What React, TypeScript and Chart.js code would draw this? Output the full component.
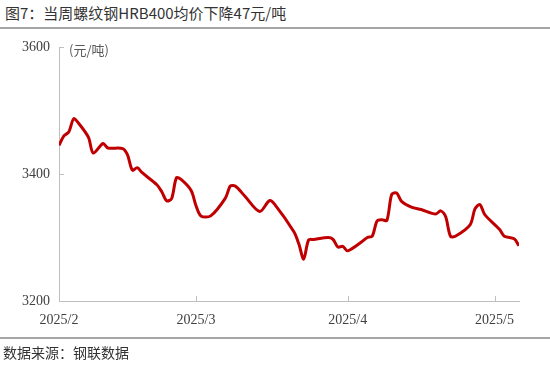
import React, { useEffect, useRef } from "react";
import { Chart, registerables } from "chart.js";

Chart.register(...registerables);

const title = "图7：当周螺纹钢HRB400均价下降47元/吨";
const source = "数据来源：钢联数据";
const unitLabel = "(元/吨)";

const dates = [
  "2025-02-01", "2025-02-02", "2025-02-03", "2025-02-04", "2025-02-05", "2025-02-07", "2025-02-08",
  "2025-02-10", "2025-02-11", "2025-02-14", "2025-02-15", "2025-02-16", "2025-02-17", "2025-02-18",
  "2025-02-21", "2025-02-22", "2025-02-23", "2025-02-24", "2025-02-25", "2025-02-26", "2025-02-28",
  "2025-03-01", "2025-03-02", "2025-03-04", "2025-03-07", "2025-03-08", "2025-03-09", "2025-03-11",
  "2025-03-14", "2025-03-16", "2025-03-17", "2025-03-21", "2025-03-22", "2025-03-23", "2025-03-24",
  "2025-03-25", "2025-03-28", "2025-03-29", "2025-03-30", "2025-03-31", "2025-04-01", "2025-04-04",
  "2025-04-05", "2025-04-06", "2025-04-07", "2025-04-08", "2025-04-09", "2025-04-10", "2025-04-11",
  "2025-04-12", "2025-04-14", "2025-04-16", "2025-04-19", "2025-04-20", "2025-04-21", "2025-04-22",
  "2025-04-23", "2025-04-26", "2025-04-27", "2025-04-28", "2025-04-29", "2025-05-02", "2025-05-03",
  "2025-05-05", "2025-05-06",
];

const prices = [
  3445, 3460, 3466, 3487, 3480, 3458, 3433,
  3448, 3441, 3440, 3430, 3406, 3410, 3402,
  3383, 3372, 3358, 3361, 3394, 3391, 3374,
  3350, 3334, 3334, 3362, 3381, 3381, 3365,
  3341, 3358, 3353, 3309, 3290, 3266, 3296,
  3297, 3300, 3297, 3285, 3286, 3279, 3294,
  3300, 3302, 3326, 3328, 3327, 3368, 3370,
  3357, 3348, 3344, 3337, 3342, 3333, 3302,
  3302, 3320, 3345, 3352, 3336, 3313, 3302,
  3298, 3287,
];

const startDate = "2025-02-01";
const endDate = "2025-05-07";
const tickDates = ["2025-02-01", "2025-03-01", "2025-04-01", "2025-05-01"];
const tickLabels = ["2025/2", "2025/3", "2025/4", "2025/5"];
const yTicks = [3200, 3400, 3600];
const yMin = 3200;
const yMax = 3600;

const DAY = 86400000;
const dayOffset = (d: string) =>
  Math.round((Date.parse(d + "T00:00:00Z") - Date.parse(startDate + "T00:00:00Z")) / DAY);

const AXIS_COLOR = "#bfbfbf";
const TEXT_COLOR = "#404040";

export default function App() {
  const canvasRef = useRef<HTMLCanvasElement | null>(null);

  useEffect(() => {
    document.body.style.margin = "0";
    const canvas = canvasRef.current;
    if (!canvas) return;

    const points = dates.map((d, i) => ({ x: dayOffset(d), y: prices[i] }));
    const tickValues = tickDates.map(dayOffset);

    const innerTicks = {
      id: "innerTicks",
      afterDraw(chart: any) {
        const { ctx, chartArea, scales } = chart;
        ctx.save();
        ctx.strokeStyle = AXIS_COLOR;
        ctx.lineWidth = 1;
        ctx.beginPath();
        tickValues.forEach((v) => {
          const x = Math.round(scales.x.getPixelForValue(v)) + 0.5;
          ctx.moveTo(x, chartArea.bottom);
          ctx.lineTo(x, chartArea.bottom - 5);
        });
        yTicks.forEach((v) => {
          const y = Math.round(scales.y.getPixelForValue(v)) + 0.5;
          ctx.moveTo(chartArea.left, y);
          ctx.lineTo(chartArea.left + 5, y);
        });
        ctx.stroke();
        ctx.fillStyle = "#595959";
        ctx.font = '13px "Noto Sans CJK SC"';
        ctx.textBaseline = "middle";
        ctx.textAlign = "left";
        ctx.fillText(unitLabel, chartArea.left + 10, chartArea.top + 3);
        ctx.restore();
      },
    };

    const chart = new Chart(canvas, {
      type: "line",
      data: {
        datasets: [
          {
            data: points,
            borderColor: "#C00000",
            borderWidth: 3,
            pointRadius: 0,
            tension: 0.3,
            fill: false,
          },
        ],
      },
      options: {
        animation: false,
        responsive: false,
        layout: { padding: { left: 0, top: 47, right: 31, bottom: 0 } },
        plugins: { legend: { display: false }, tooltip: { enabled: false }, title: { display: false } },
        scales: {
          x: {
            type: "linear",
            min: dayOffset(startDate),
            max: dayOffset(endDate) - 1,
            grid: { display: false, drawTicks: false },
            border: { display: true, color: AXIS_COLOR, width: 1 },
            afterBuildTicks: (scale: any) => {
              scale.ticks = tickValues.map((v) => ({ value: v }));
            },
            afterFit: (scale: any) => {
              scale.height = 66;
            },
            ticks: {
              autoSkip: false,
              maxRotation: 0,
              padding: 11,
              color: TEXT_COLOR,
              font: { family: '"Liberation Serif"', size: 14 },
              callback: (v: any) => {
                const idx = tickValues.indexOf(Number(v));
                return idx >= 0 ? tickLabels[idx] : "";
              },
            },
          },
          y: {
            min: yMin,
            max: yMax,
            grid: { display: false, drawTicks: false },
            border: { display: true, color: AXIS_COLOR, width: 1 },
            afterBuildTicks: (scale: any) => {
              scale.ticks = yTicks.map((v) => ({ value: v }));
            },
            afterFit: (scale: any) => {
              scale.width = 59;
            },
            ticks: {
              padding: 9,
              color: TEXT_COLOR,
              font: { family: '"Liberation Serif"', size: 14 },
              callback: (v: any) => String(v),
            },
          },
        },
      },
      plugins: [innerTicks],
    });

    return () => chart.destroy();
  }, []);

  return (
    <div
      style={{
        position: "fixed",
        left: 0,
        top: 0,
        width: 550,
        height: 367,
        background: "#ffffff",
        overflow: "hidden",
      }}
    >
      <div
        style={{
          position: "absolute",
          left: 5,
          top: 3,
          fontFamily: '"Noto Sans CJK SC"',
          fontSize: 15,
          lineHeight: "20px",
          color: "#333333",
          whiteSpace: "nowrap",
        }}
      >
        {title}
      </div>
      <div style={{ position: "absolute", left: 0, top: 27, width: 550, height: 1.5, background: "#a6a6a6" }} />
      <canvas ref={canvasRef} width={550} height={367} style={{ position: "absolute", left: 0, top: 0 }} />
      <div style={{ position: "absolute", left: 0, top: 337, width: 550, height: 1.5, background: "#a6a6a6" }} />
      <div
        style={{
          position: "absolute",
          left: 3,
          top: 342,
          fontFamily: '"Noto Sans CJK SC"',
          fontSize: 14,
          lineHeight: "20px",
          color: "#333333",
          whiteSpace: "nowrap",
        }}
      >
        {source}
      </div>
    </div>
  );
}
